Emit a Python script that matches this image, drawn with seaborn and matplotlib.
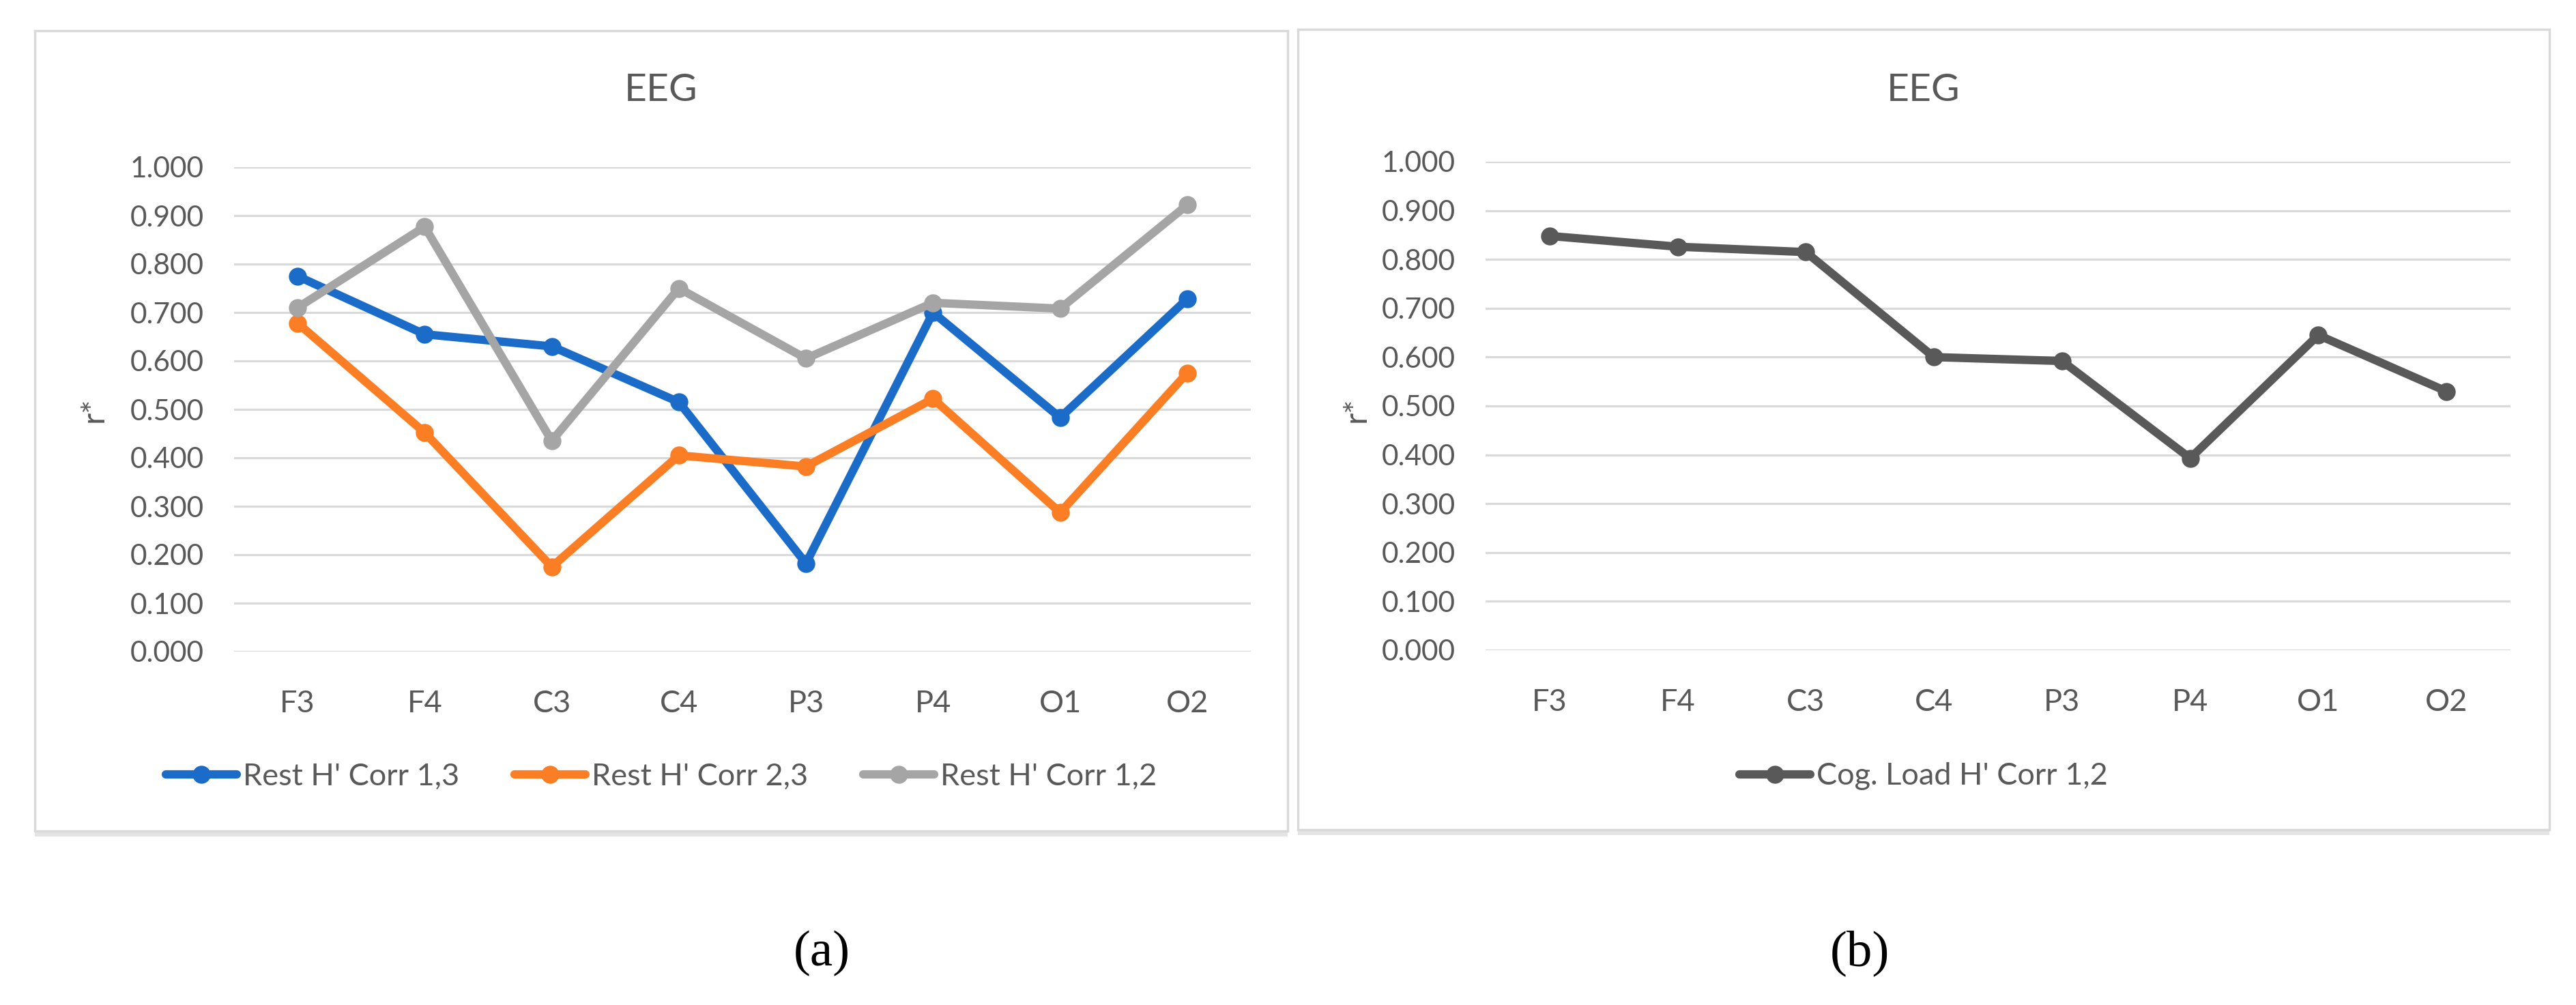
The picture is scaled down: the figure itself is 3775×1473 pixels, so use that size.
import pandas as pd
import numpy as np
import matplotlib.pyplot as plt
import seaborn as sns
from matplotlib.patches import Rectangle

# Channels on the x axis
channels = ['F3', 'F4', 'C3', 'C4', 'P3', 'P4', 'O1', 'O2']

# Panel (a): rest condition
rest_13 = [0.775, 0.655, 0.630, 0.515, 0.182, 0.700, 0.483, 0.728]
rest_23 = [0.678, 0.452, 0.175, 0.405, 0.382, 0.522, 0.287, 0.575]
rest_12 = [0.710, 0.877, 0.435, 0.750, 0.605, 0.720, 0.708, 0.922]
rest_names = ["Rest H' Corr 1,3", "Rest H' Corr 2,3", "Rest H' Corr 1,2"]

# Panel (b): cognitive load
cog_12 = [0.848, 0.826, 0.815, 0.600, 0.592, 0.393, 0.645, 0.530]
cog_names = ["Cog. Load H' Corr 1,2"]

yticks = [0.0, 0.1, 0.2, 0.3, 0.4, 0.5, 0.6, 0.7, 0.8, 0.9, 1.0]

rest_colors = ['#1B6CC8', '#FB7D24', '#A5A5A5']
cog_colors = ['#595959']

df_a = pd.DataFrame({
    'channel': channels * 3,
    'r': rest_13 + rest_23 + rest_12,
    'series': [rest_names[0]] * 8 + [rest_names[1]] * 8 + [rest_names[2]] * 8,
})
df_b = pd.DataFrame({'channel': channels, 'r': cog_12, 'series': cog_names * 8})

sns.set_theme(style='white')
plt.rcParams['font.family'] = ['Lato', 'DejaVu Sans']

W, H = 3775, 1473
fig = plt.figure(figsize=(W / 100, H / 100), dpi=100)
text_gray = '#595959'
grid_gray = '#D9D9D9'


def fx(px):
    return px / W


def fy(py):
    return 1 - py / H


# panel frames with a faint shadow at the bottom
for (x0, y0, x1, y1) in [(51, 45, 1887, 1218), (1902, 43, 3736, 1216)]:
    fig.patches.append(Rectangle((fx(x0), fy(y1 + 8)), fx(x1 - x0), (y1 - y0) / H,
                                 transform=fig.transFigure, facecolor='#E4E4E4',
                                 edgecolor='none', zorder=0))
    fig.patches.append(Rectangle((fx(x0), fy(y1)), fx(x1 - x0), (y1 - y0) / H,
                                 transform=fig.transFigure, facecolor='white',
                                 edgecolor=grid_gray, linewidth=2.5, zorder=0.5))

ax_a = fig.add_axes([fx(343), fy(955), fx(1833 - 343), (955 - 245) / H])
ax_b = fig.add_axes([fx(2177), fy(953), fx(3679 - 2177), (953 - 237) / H])

panels = [
    (ax_a, df_a, rest_colors, rest_names, 969, 0.319, '(a)'),
    (ax_b, df_b, cog_colors, cog_names, 2819, 0.7221, '(b)'),
]

for ax, df, colors, names, cx, capx, cap in panels:
    ax.set_zorder(2)
    ax.patch.set_alpha(0)
    sns.lineplot(data=df, x='channel', y='r', hue='series', palette=colors,
                 hue_order=names, marker='o', markersize=19, markeredgewidth=0,
                 linewidth=8.8, sort=False, errorbar=None, legend=False, ax=ax,
                 solid_joinstyle='round', solid_capstyle='round')
    ax.set_xlim(-0.5, 7.5)
    ax.set_ylim(0, 1)
    ax.set_yticks(yticks)
    ax.set_yticklabels([f'{v:.3f}' for v in yticks])
    ax.yaxis.grid(True, color=grid_gray, linewidth=2.3)
    ax.set_axisbelow(True)
    for s in ax.spines.values():
        s.set_visible(False)
    ax.tick_params(axis='y', length=0, pad=32, labelsize=30.5, labelcolor=text_gray)
    ax.tick_params(axis='x', length=0, pad=40, labelsize=32.5, labelcolor=text_gray)
    ax.set_xlabel('')
    ax.set_ylabel('')

    # title, y label, legend, caption
    fig.text(fx(cx), fy(133), 'EEG', ha='center', va='center', fontsize=41,
             color=text_gray, zorder=3)
    ylx = 138 if ax is ax_a else 1988
    fig.text(fx(ylx), fy(600), 'r*', ha='center', va='center', rotation=90,
             fontsize=34, color=text_gray, zorder=3)
    handles = ax.get_lines()[:len(names)]
    leg = fig.legend(handles, names, loc='center', bbox_to_anchor=(fx(cx), fy(1138)),
                     ncol=len(names), frameon=False, fontsize=32.5, labelcolor=text_gray,
                     handlelength=2.3, handletextpad=0.2, columnspacing=1.8, numpoints=1)
    leg.set_zorder(3)
    fig.text(capx, fy(1397), cap, ha='center', va='center', fontsize=54,
             family='Liberation Serif', color='black')

fig.savefig('out.png', dpi=100)
